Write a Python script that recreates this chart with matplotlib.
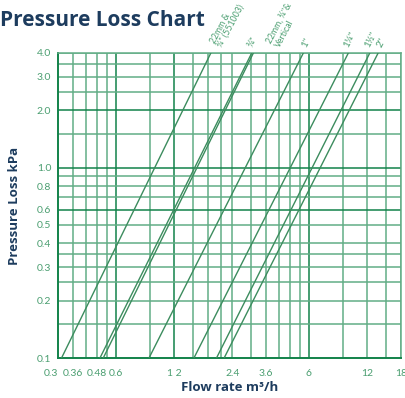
import numpy as np
import matplotlib.pyplot as plt
from matplotlib.transforms import offset_copy

# Pressure loss lines: flow (m3/h) at 0.1 kPa and at 4.0 kPa
dp_ends = [0.1, 4.0]
names = ['22mm &\n¾" (551003)', '¾"', '22mm, ¾"&\nVertical', '1"', '1¼"', '1½"', '2"']
flow_lo = [0.313, 0.495, 0.515, 0.889, 1.52, 1.99, 2.18]
flow_hi = [1.86, 3.03, 3.09, 5.61, 9.6, 12.4, 13.7]

# axis ticks
x_ticks = [0.3, 0.36, 0.48, 0.6, 1.2, 2.4, 3.6, 6, 12, 18]
x_tick_labels = ['0.3', '0.36', '0.48', '0.6', '1 2', '2.4', '3.6', '6', '12', '18']
y_ticks = [0.1, 0.2, 0.3, 0.4, 0.5, 0.6, 0.8, 1.0, 2.0, 3.0, 4.0]
y_tick_labels = ['0.1', '0.2', '0.3', '0.4', '0.5', '0.6', '0.8', '1.0', '2.0', '3.0', '4.0']

# grid
x_grid = [0.36, 0.42, 0.48, 0.54, 0.6, 0.9, 1.2, 1.5, 1.8, 2.1, 2.4, 3.0, 3.6, 4.2, 4.8, 5.4, 6, 9, 12, 15, 18]
y_grid = [0.15, 0.2, 0.25, 0.3, 0.35, 0.4, 0.5, 0.6, 0.7, 0.8, 0.9, 1.0, 1.5, 2.0, 2.5, 3.0, 3.5, 4.0]
x_dark = [0.6, 1.2, 6]
y_dark = [0.6, 1.0, 2.0]

navy = '#1d3c5e'
green_txt = '#4a9e70'
dark = '#12824a'
light = '#62ad86'
line_c = '#3c8c5e'

plt.rcParams['font.family'] = ['Open Sans', 'DejaVu Sans']

fig = plt.figure(figsize=(4.06, 3.98), dpi=100)
ax = fig.add_axes([58/406, 1 - 358/398, 343/406, 305/398])
ax.set_xscale('log')
ax.set_yscale('log')
ax.set_xlim(0.3, 18)
ax.set_ylim(0.1, 4.0)

for x in x_grid:
    ax.axvline(x, color=dark if x in x_dark else light, lw=1.1, zorder=1)
for y in y_grid:
    ax.axhline(y, color=dark if y in y_dark else light, lw=1.1, zorder=1)

for lo, hi in zip(flow_lo, flow_hi):
    ax.plot([lo, hi], dp_ends, color=line_c, lw=1.0, zorder=3)

# labels above the top edge, pixel offsets from the line tops
label_dx = [14, 3, 28, 5, 2, 1, 5]
for name, hi, dx in zip(names, flow_hi, label_dx):
    tr = offset_copy(ax.transData, fig=fig, x=dx * 0.72, y=4 * 0.72, units='points')
    size = 6.3 if '\n' in name else 7
    ax.text(hi, 4.0, name, transform=tr, rotation=62, rotation_mode='anchor',
            ha='left', va='bottom', fontsize=size, color=green_txt, clip_on=False,
            linespacing=0.95, family=['Lato', 'DejaVu Sans'])

ax.minorticks_off()
ax.set_xticks(x_ticks)
ax.set_xticklabels(x_tick_labels)
ax.set_yticks(y_ticks)
ax.set_yticklabels(y_tick_labels)
ax.tick_params(axis='both', length=0, labelsize=7, labelcolor=green_txt)
for lbl in ax.get_xticklabels() + ax.get_yticklabels():
    lbl.set_family(['Lato', 'DejaVu Sans'])
    lbl.set_fontsize(7.5)
ax.get_xticklabels()[0].set_horizontalalignment('right')
ax.tick_params(axis='x', pad=8)
ax.tick_params(axis='y', pad=5)

for s in ['top', 'right']:
    ax.spines[s].set_color(light)
    ax.spines[s].set_linewidth(1.1)
for s in ['left', 'bottom']:
    ax.spines[s].set_color(dark)
    ax.spines[s].set_linewidth(1.4)

ax.set_xlabel('Flow rate m³/h', fontsize=9.5, fontweight='bold', color=navy, labelpad=2)
ax.set_ylabel('Pressure Loss kPa', fontsize=9.5, fontweight='bold', color=navy, labelpad=11)

fig.text(0.0, 1 - 20/398, 'Pressure Loss Chart', fontsize=15, fontweight='bold',
         color=navy, ha='left', va='center')

fig.savefig('out.png', dpi=100)
